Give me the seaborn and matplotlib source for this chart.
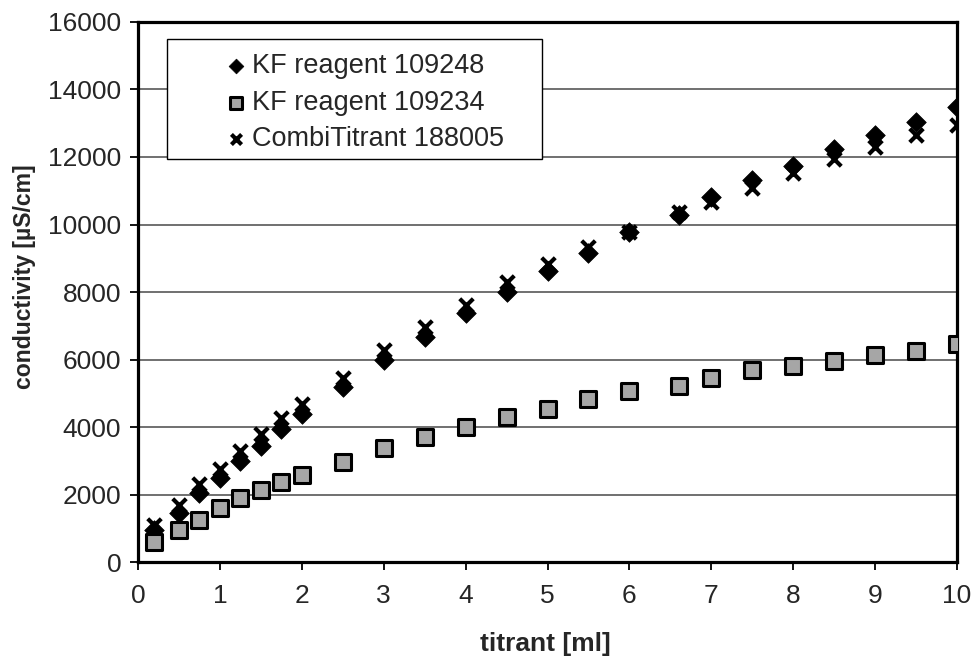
import seaborn as sns
import matplotlib.pyplot as plt
import pandas as pd
from matplotlib.patches import Rectangle

# Data
titrant = [0.2, 0.5, 0.75, 1, 1.25, 1.5, 1.75, 2, 2.5, 3, 3.5, 4, 4.5, 5,
           5.5, 6, 6.6, 7, 7.5, 8, 8.5, 9, 9.5, 10]
kf_109248 = [950, 1450, 2050, 2500, 3000, 3430, 3930, 4380, 5180, 5990, 6660,
             7370, 8010, 8630, 9150, 9770, 10280, 10820, 11320, 11740, 12230,
             12650, 13050, 13470]
kf_109234 = [600, 950, 1260, 1590, 1890, 2120, 2370, 2570, 2975, 3380, 3690,
             4010, 4310, 4540, 4830, 5075, 5225, 5440, 5690, 5810, 5960, 6130,
             6250, 6450]
combi_188005 = [1100, 1690, 2300, 2760, 3280, 3780, 4280, 4680, 5450, 6280,
                6970, 7610, 8290, 8830, 9330, 9790, 10380, 10680, 11090, 11520,
                11930, 12290, 12650, 12950]

labels = ["KF reagent 109248", "KF reagent 109234", "CombiTitrant 188005"]
y_ticks = list(range(0, 16001, 2000))
x_ticks = list(range(0, 11))

df = pd.DataFrame({"titrant": titrant, "a": kf_109248, "b": kf_109234, "c": combi_188005})

sns.set_theme(style="white")
plt.rcParams["font.family"] = ["Liberation Sans", "DejaVu Sans"]

fig = plt.figure(figsize=(9.73, 6.62), dpi=100)
ax = fig.add_axes([0.1418, 0.151, 0.8418, 0.8158])

# horizontal grid
for v in y_ticks[1:]:
    ax.axhline(v, color="#707070", lw=1.4, zorder=0)

sns.scatterplot(data=df, x="titrant", y="a", marker="D", s=100, color="black",
                edgecolor="black", linewidth=0.5, label=labels[0], ax=ax, zorder=3)
sns.scatterplot(data=df, x="titrant", y="b", marker="s", s=130, color="#a6a6a6",
                edgecolor="black", linewidth=2.2, label=labels[1], ax=ax, zorder=3)
sns.scatterplot(data=df, x="titrant", y="c", marker="x", s=95, color="black",
                linewidth=3.0, label=labels[2], ax=ax, zorder=4)

ax.set_xlim(0, 10)
ax.set_ylim(0, 16000)
ax.set_xticks(x_ticks)
ax.set_yticks(y_ticks)
ax.tick_params(axis="both", labelsize=19, length=6, width=1.3, color="black",
               direction="out", bottom=True, left=True, pad=6)
ax.tick_params(axis="x", pad=10)

for s in ax.spines.values():
    s.set_color("black")
    s.set_linewidth(2.3)

ax.set_xlabel("titrant [ml]", fontsize=19, fontweight="bold", va="center")
ax.set_ylabel("conductivity [µS/cm]", fontsize=16.6, fontweight="bold", va="center")
ax.xaxis.set_label_coords(0.498, -0.152)
ax.yaxis.set_label_coords(-0.139, 0.528)

# legend box drawn as a plain rectangle, legend itself frameless
ax.add_patch(Rectangle((0.0354, 0.746), 0.4578, 0.2225, transform=ax.transAxes,
                       facecolor="white", edgecolor="black", lw=1.0, zorder=5))
leg = ax.legend(loc="upper left", bbox_to_anchor=(0.093, 0.968), fontsize=19.5,
                frameon=False, handletextpad=0.3, handlelength=0.6, borderpad=0,
                labelspacing=0.4, markerscale=0.75)
leg.set_zorder(6)

fig.savefig("out.png", dpi=100)
